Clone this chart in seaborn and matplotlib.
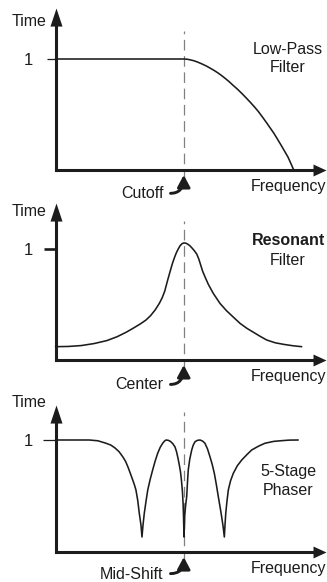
import matplotlib
matplotlib.use("Agg")
import matplotlib.pyplot as plt
import pandas as pd
import seaborn as sns

# ---- responses (frequency relative to the cutoff / centre, gain) ----
lowpass_freq = [0.0, 1.00, 1.025, 1.05, 1.075, 1.10, 1.125, 1.15, 1.175, 1.20,
                1.23, 1.26, 1.29, 1.32, 1.35, 1.38, 1.415, 1.45, 1.485, 1.52,
                1.55, 1.58, 1.61, 1.64, 1.67, 1.70, 1.73, 1.76, 1.785, 1.81,
                1.832, 1.854]
lowpass_gain = [1.0, 1.000, 0.998, 0.992, 0.985, 0.975, 0.963, 0.950, 0.936,
                0.920, 0.900, 0.878, 0.853, 0.826, 0.797, 0.765, 0.729, 0.690,
                0.648, 0.605, 0.566, 0.525, 0.478, 0.430, 0.380, 0.330, 0.273,
                0.215, 0.165, 0.115, 0.058, 0.0]

resonant_freq = [0.00, 0.10, 0.20, 0.30, 0.40, 0.48, 0.55, 0.61, 0.66, 0.704,
                 0.74, 0.775, 0.808, 0.83, 0.85, 0.873, 0.89, 0.91, 0.925,
                 0.94, 0.955, 0.97, 0.985, 1.00, 1.015, 1.03, 1.045, 1.06,
                 1.08, 1.099, 1.115, 1.13, 1.145, 1.163, 1.19, 1.228, 1.28,
                 1.33, 1.385, 1.436, 1.49, 1.54, 1.59, 1.644, 1.71, 1.78,
                 1.85, 1.916]
resonant_gain = [0.12, 0.122, 0.13, 0.148, 0.175, 0.21, 0.25, 0.29, 0.325,
                 0.36, 0.40, 0.45, 0.51, 0.56, 0.62, 0.72, 0.79, 0.87, 0.92,
                 0.965, 1.00, 1.03, 1.048, 1.055, 1.052, 1.043, 1.03, 1.012,
                 0.985, 0.955, 0.91, 0.855, 0.80, 0.75, 0.68, 0.60, 0.51,
                 0.445, 0.385, 0.33, 0.285, 0.25, 0.215, 0.18, 0.155, 0.14,
                 0.128, 0.12]

phaser_freq = [0.000, 0.263, 0.33, 0.393, 0.43, 0.463, 0.495, 0.523, 0.545,
               0.564, 0.583, 0.601, 0.614, 0.626, 0.64, 0.652, 0.665, 0.673,
               0.681, 0.691, 0.704, 0.718, 0.736, 0.756, 0.775, 0.795, 0.815,
               0.834, 0.848, 0.860, 0.878, 0.895, 0.913, 0.930, 0.942, 0.953,
               0.963, 0.973, 0.981, 0.988, 0.993, 0.996, 0.998, 1.000, 1.003,
               1.006, 1.013, 1.021, 1.027, 1.033, 1.045, 1.060, 1.072, 1.086,
               1.105, 1.125, 1.145, 1.163, 1.183, 1.202, 1.22, 1.236, 1.252,
               1.267, 1.281, 1.293, 1.304, 1.314, 1.319, 1.325, 1.334, 1.345,
               1.362, 1.384, 1.415, 1.449, 1.49, 1.527, 1.58, 1.630, 1.70,
               1.760, 1.82, 1.889]
phaser_gain = [1.000, 1.000, 0.993, 0.971, 0.955, 0.929, 0.895, 0.851, 0.81,
               0.759, 0.70, 0.643, 0.60, 0.554, 0.46, 0.346, 0.241, 0.134,
               0.241, 0.346, 0.45, 0.554, 0.645, 0.732, 0.81, 0.881, 0.935,
               0.971, 0.99, 1.000, 0.997, 0.987, 0.967, 0.938, 0.895, 0.839,
               0.78, 0.714, 0.63, 0.536, 0.43, 0.330, 0.23, 0.134, 0.23,
               0.330, 0.42, 0.494, 0.62, 0.732, 0.83, 0.911, 0.955, 0.985,
               0.997, 1.000, 0.99, 0.971, 0.92, 0.851, 0.78, 0.703, 0.60,
               0.494, 0.40, 0.315, 0.23, 0.134, 0.24, 0.346, 0.45, 0.554,
               0.635, 0.703, 0.77, 0.821, 0.87, 0.911, 0.945, 0.971, 0.988,
               0.994, 0.999, 1.000]

filter_titles = [("Low-Pass", "Filter"), ("Resonant", "Filter"), ("5-Stage", "Phaser")]
marker_labels = ["Cutoff", "Center", "Mid-Shift"]
y_label = "Time"
x_label = "Frequency"
unity_label = "1"

# ---- styling ----
sns.set_theme(style="ticks")
plt.rcParams["font.family"] = ["Liberation Sans", "DejaVu Sans"]
INK = "#1c1c1c"
DASH = "#808080"

W, H = 327, 582
ORIGIN_PX = 55.5      # pixel column of zero frequency
UNIT_PX = 128.5       # pixels per unit of relative frequency

# (band top, band bottom, baseline, px per unit gain, y-arrow tip, tick len, tick width, pad, label y)
panels = [
    (0, 195, 170, 111, 1.46, 6.3, 0.9, 9.9, -0.215),
    (195, 388, 360, 111, 1.414, 8.5, 1.9, 7.7, -0.225),
    (388, 582, 552, 112, 1.31, 9.2, 0.9, 7.0, -0.198),
]
curves = [
    pd.DataFrame({"freq": lowpass_freq, "gain": lowpass_gain}),
    pd.DataFrame({"freq": resonant_freq, "gain": resonant_gain}),
    pd.DataFrame({"freq": phaser_freq, "gain": phaser_gain}),
]
title_pos = [(1.09, 0.92), (1.081, 0.90), (0.723, 0.545)]

UP_HEAD = [(0, 0), (-1, -3), (1, -3), (0, 0)]
RIGHT_HEAD = [(0, 0), (-2.4, -1.1), (-2.4, 1.1), (0, 0)]

fig = plt.figure(figsize=(W / 100, H / 100), dpi=100)
x_left = -ORIGIN_PX / UNIT_PX
x_right = (W - ORIGIN_PX) / UNIT_PX
x_tip = (W - 0.8 - ORIGIN_PX) / UNIT_PX

for i, (spec, df) in enumerate(zip(panels, curves)):
    top, bottom, base, unit, ytip, tlen, twid, pad, lab_y = spec
    ax = fig.add_axes([0, 1 - bottom / H, 1, (bottom - top) / H])
    ax.patch.set_visible(False)
    ax.set_xlim(x_left, x_right)
    ax.set_ylim(-(bottom - base) / unit, (base - top) / unit)

    # axes drawn as arrows through the origin
    for side in ("top", "right"):
        ax.spines[side].set_visible(False)
    for side in ("left", "bottom"):
        sp = ax.spines[side]
        sp.set_position(("data", 0))
        sp.set_linewidth(2.2)
        sp.set_color(INK)
        sp.set_capstyle("projecting")
    ax.spines["left"].set_bounds(0, ytip - 10 / unit)
    ax.spines["bottom"].set_bounds(0, x_tip - 8 / UNIT_PX)
    ax.plot(0, ytip, marker=UP_HEAD, ms=26, color=INK, mew=0, clip_on=False)
    ax.plot(x_tip, 0, marker=RIGHT_HEAD, ms=18.7, color=INK, mew=0, clip_on=False)

    ax.set_xticks([])
    ax.set_yticks([1])
    ax.set_yticklabels([unity_label])
    ax.tick_params(axis="y", left=True, length=tlen, width=twid, color=INK,
                   pad=pad, labelsize=12, labelcolor=INK, direction="out")

    # reference frequency marker
    ax.vlines(1.0, -0.09, 1.25, colors=DASH, linewidth=0.9,
              linestyles=(0, (8.5, 4.5)), zorder=1)

    sns.lineplot(data=df, x="freq", y="gain", ax=ax, color=INK, linewidth=1.15,
                 sort=False, estimator=None, zorder=3)
    ax.set_xlabel("")
    ax.set_ylabel("")

    ax.text(-9.5 / UNIT_PX, 1.335, y_label, ha="right", va="center",
            fontsize=11.5, color=INK)
    ax.text(1.817, -0.145, x_label, ha="center", va="center",
            fontsize=11.5, color=INK)

    t1, t2 = filter_titles[i]
    y1, y2 = title_pos[i]
    ax.text(1.81, y1, t1, ha="center", va="center", fontsize=11.5, color=INK,
            fontweight="bold" if i == 1 else "normal")
    ax.text(1.81, y2, t2, ha="center", va="center", fontsize=11.5, color=INK)

    ax.text(0.84, lab_y, marker_labels[i], ha="right", va="center",
            fontsize=11.5, color=INK)
    ax.annotate("", xy=(0.998, -0.045), xytext=(0.895, lab_y + 0.005),
                arrowprops=dict(arrowstyle="-|>,head_length=0.6,head_width=0.32",
                                connectionstyle="angle3,angleA=0,angleB=90",
                                lw=2.1, color=INK, shrinkA=0, shrinkB=0,
                                mutation_scale=12),
                annotation_clip=False)

fig.savefig("out.png", dpi=100)
